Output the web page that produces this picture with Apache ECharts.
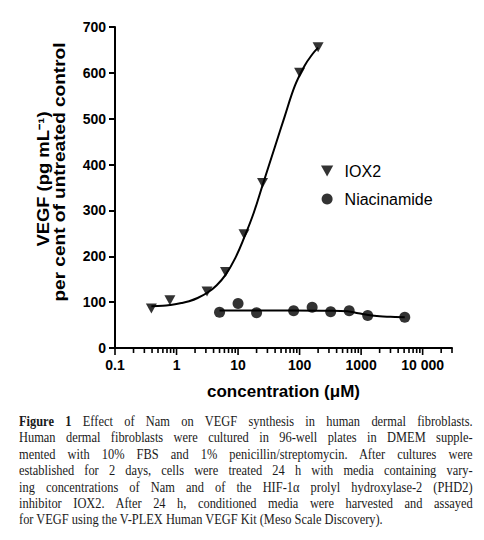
<!DOCTYPE html>
<html>
<head>
<meta charset="utf-8">
<script src="https://cdn.jsdelivr.net/npm/echarts@6/dist/echarts.min.js"></script>
<style>
html,body{margin:0;padding:0;background:#fff;}
#chart{position:absolute;left:0;top:0;width:484px;height:540px;}
#caption{position:absolute;left:19px;top:414px;width:512px;transform:scaleX(0.886);transform-origin:0 0;
  font-family:"Liberation Serif","Times New Roman",serif;font-size:14px;line-height:16.4px;color:#1a1a1a;}
#caption div{text-align:justify;text-align-last:justify;white-space:nowrap;}
#caption div.last{text-align:left;text-align-last:left;}
</style>
</head>
<body>
<div id="chart"></div>
<div id="caption">
<div><b>Figure 1</b> Effect of Nam on VEGF synthesis in human dermal fibroblasts.</div>
<div>Human dermal fibroblasts were cultured in 96-well plates in DMEM supple-</div>
<div>mented with 10% FBS and 1% penicillin/streptomycin. After cultures were</div>
<div>established for 2 days, cells were treated 24 h with media containing vary-</div>
<div>ing concentrations of Nam and of the HIF-1α prolyl hydroxylase-2 (PHD2)</div>
<div>inhibitor IOX2. After 24 h, conditioned media were harvested and assayed</div>
<div class="last">for VEGF using the V-PLEX Human VEGF Kit (Meso Scale Discovery).</div>
</div>
<script>
// ---- data ----
const ioxConc = [0.39, 0.78, 3.13, 6.25, 12.5, 25, 100, 200];
const ioxVal  = [86, 104, 123, 166, 248, 360, 600, 656];
const namConc = [5, 10, 20, 80, 160, 320, 640, 1280, 5120];
const namVal  = [78, 97, 77, 81, 89, 79, 81, 71, 67];
// fitted curves
const ioxFitConc = [0.39, 0.6, 0.8, 1.2, 1.6, 2.2, 3.2, 4.5, 6.3, 9, 12.5, 18, 25, 40, 57, 84, 120, 160, 200];
const ioxFitVal  = [91, 92, 94, 98, 102, 109, 121, 137, 160, 196, 240, 295, 355, 440, 504, 572, 615, 640, 655];
const namFitConc = [5, 20, 80, 300, 600, 900, 1300, 2000, 3000, 5120];
const namFitVal  = [82, 82, 82, 81.5, 80, 76, 72, 69, 68, 67];
// axis ticks
const xMajorTicks = [0.1, 1, 10, 100, 1000, 10000];
const xTickLabels = ['0.1', '1', '10', '100', '1000', '10 000'];
const xMinorTicks = [];
for (let d = 0.1; d < 10001; d *= 10) {
  for (let m = 2; m <= 9; m++) {
    const v = +(d * m).toPrecision(3);
    if (v <= 30000) xMinorTicks.push(v);
  }
}
const yMin = 0, yMax = 700, yStep = 100;

const FONT = '"Liberation Sans", Arial, Helvetica, sans-serif';
const triPath = 'path://M0,0 L10,0 L5,9 Z';

const zip = (a, b) => a.map((v, i) => [v, b[i]]);
const tickData = xMajorTicks.map(v => [v, 0, 6]).concat(xMinorTicks.map(v => [v, 0, 4]));

const chart = echarts.init(document.getElementById('chart'), null, {renderer: 'svg'});
chart.setOption({
  animation: false,
  backgroundColor: '#fff',
  grid: {left: 115, top: 27, width: 337, height: 321},
  xAxis: {
    type: 'log', logBase: 10, min: 0.1, max: 30000,
    axisLine: {show: true, onZero: false, lineStyle: {color: '#000', width: 2}},
    axisTick: {show: false},
    splitLine: {show: false},
    minorTick: {show: false},
    axisLabel: {
      color: '#000', fontFamily: FONT, fontWeight: 'bold', fontSize: 14, margin: 10,
      showMaxLabel: false,
      formatter: function (v) {
        for (let i = 0; i < xMajorTicks.length; i++) {
          if (Math.abs(Math.log10(v) - Math.log10(xMajorTicks[i])) < 1e-6) return xTickLabels[i];
        }
        return '';
      }
    },
    name: 'concentration (μM)', nameLocation: 'middle', nameGap: 35,
    nameTextStyle: {color: '#000', fontFamily: FONT, fontWeight: 'bold', fontSize: 17}
  },
  yAxis: {
    type: 'value', min: yMin, max: yMax, interval: yStep,
    axisLine: {show: true, lineStyle: {color: '#000', width: 2}},
    axisTick: {show: true, length: 6, lineStyle: {color: '#000', width: 2}},
    splitLine: {show: false},
    axisLabel: {color: '#000', fontFamily: FONT, fontWeight: 'bold', fontSize: 14, margin: 9}
  },
  legend: {
    data: [{name: 'IOX2', icon: triPath}, {name: 'Niacinamide', icon: 'circle'}],
    orient: 'vertical', left: 321, top: 163, itemWidth: 25, itemHeight: 11, itemGap: 12,
    padding: 0, selectedMode: false,
    textStyle: {color: '#000', fontFamily: FONT, fontSize: 16}
  },
  graphic: [
    {type: 'text', x: 43, y: 179, rotation: Math.PI / 2, scaleX: 1.15,
     style: {text: 'VEGF (pg mL⁻¹)', align: 'center', verticalAlign: 'middle',
       fontSize: 16, fontWeight: 'bold', fontFamily: FONT, fill: '#000'}},
    {type: 'text', x: 60, y: 172, rotation: Math.PI / 2, scaleX: 1.19,
     style: {text: 'per cent of untreated control', align: 'center', verticalAlign: 'middle',
       fontSize: 16, fontWeight: 'bold', fontFamily: FONT, fill: '#000'}}
  ],
  series: [
    {
      type: 'custom', name: 'ticks', silent: true, clip: false, z: 5,
      encode: {x: 0, y: 1},
      data: tickData,
      renderItem: function (params, api) {
        const p = api.coord([api.value(0), api.value(1)]);
        return {type: 'line', shape: {x1: p[0], y1: p[1], x2: p[0], y2: p[1] + 1 + api.value(2)},
          style: {stroke: '#000', lineWidth: 1.6}};
      }
    },
    {
      type: 'line', name: 'IOX2 fit', data: zip(ioxFitConc, ioxFitVal), smooth: 0.4,
      showSymbol: false, symbol: 'none', silent: true,
      lineStyle: {color: '#000', width: 2}
    },
    {
      type: 'line', name: 'Niacinamide fit', data: zip(namFitConc, namFitVal), smooth: 0.4,
      showSymbol: false, symbol: 'none', silent: true,
      lineStyle: {color: '#000', width: 2}
    },
    {
      type: 'scatter', name: 'IOX2', data: zip(ioxConc, ioxVal),
      symbol: triPath, symbolSize: [11, 10], itemStyle: {color: '#000'}, z: 10
    },
    {
      type: 'scatter', name: 'Niacinamide', data: zip(namConc, namVal),
      symbol: 'circle', symbolSize: 11, itemStyle: {color: '#000'}, z: 10
    }
  ]
});
</script>
</body>
</html>
